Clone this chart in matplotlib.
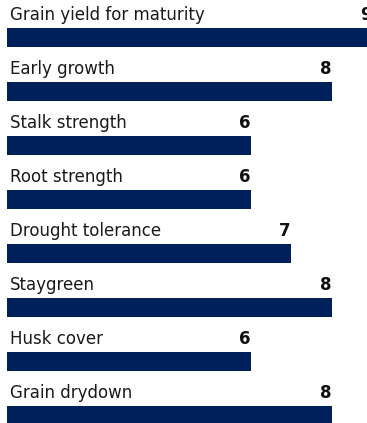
import matplotlib.pyplot as plt

plt.rcParams['font.family'] = ['DejaVu Sans']

# 数据
traits = ["Grain yield for maturity", "Early growth", "Stalk strength", "Root strength",
          "Drought tolerance", "Staygreen", "Husk cover", "Grain drydown"]
scores = [9, 8, 6, 6, 7, 8, 6, 8]

navy = '#00205b'

fig = plt.figure(figsize=(3.67, 4.23), dpi=100)
ax = fig.add_axes([0, 0, 1, 1])

pos = list(range(len(traits)))
ax.barh(pos, scores, height=0.352, color=navy, left=0)

for i, (t, s) in enumerate(zip(traits, scores)):
    ax.text(0.07, i - 0.33, t, fontsize=12, va='baseline', ha='left', color='#1a1a1a')
    ax.text(s - 0.01, i - 0.33, str(s), fontsize=12, fontweight='bold',
            va='baseline', ha='right', color='#111111')

ax.set_xlim(-0.172, 8.867)
ax.set_ylim(7.139, -0.694)
ax.axis('off')

plt.savefig('out.png', dpi=100)
